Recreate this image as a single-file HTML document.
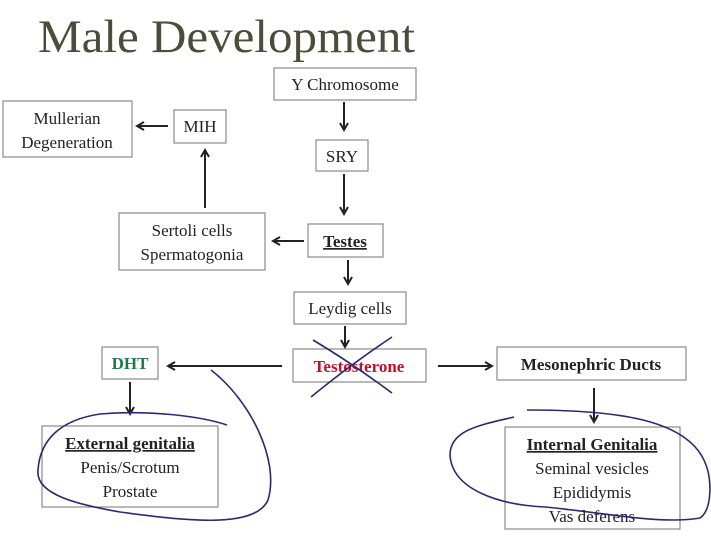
<!DOCTYPE html>
<html><head><meta charset="utf-8"><style>
html,body{margin:0;padding:0;background:#fff;}
svg{display:block;}
text{font-family:"Liberation Serif",serif;font-size:17px;fill:#222;}
.b{fill:#fff;stroke:#8a8a8a;stroke-width:1.2;}
.a{stroke:#222;stroke-width:2;fill:none;}
.ink{stroke:#2a2a6e;stroke-width:1.6;fill:none;}
</style></head><body>
<svg width="711" height="545" viewBox="0 0 711 545">
<defs><marker id="m" markerWidth="10" markerHeight="10" refX="8" refY="5" orient="auto" markerUnits="userSpaceOnUse"><path d="M1,1 L8,5 L1,9" fill="none" stroke="#222" stroke-width="2"/></marker></defs>
<text x="38" y="52" textLength="377" lengthAdjust="spacingAndGlyphs" style="font-size:47px;fill:#4d4c3a">Male Development</text>

<rect class="b" x="274" y="68" width="142" height="32"/><text x="345" y="90" text-anchor="middle">Y Chromosome</text>
<rect class="b" x="316" y="140" width="52" height="31"/><text x="342" y="162" text-anchor="middle">SRY</text>
<rect class="b" x="308" y="224" width="75" height="33"/><text x="345" y="247" text-anchor="middle" style="font-weight:bold;text-decoration:underline">Testes</text>
<rect class="b" x="294" y="292" width="112" height="32"/><text x="350" y="314" text-anchor="middle">Leydig cells</text>
<rect class="b" x="293" y="349" width="133" height="33"/><text x="359" y="372" text-anchor="middle" style="font-weight:bold;fill:#c0102a">Testosterone</text>
<rect class="b" x="174" y="110" width="52" height="33"/><text x="200" y="132" text-anchor="middle">MIH</text>
<rect class="b" x="3" y="101" width="129" height="56"/><text x="67" y="124" text-anchor="middle">Mullerian</text><text x="67" y="148" text-anchor="middle">Degeneration</text>
<rect class="b" x="119" y="213" width="146" height="57"/><text x="192" y="236" text-anchor="middle">Sertoli cells</text><text x="192" y="260" text-anchor="middle">Spermatogonia</text>
<rect class="b" x="102" y="347" width="56" height="32"/><text x="130" y="369" text-anchor="middle" style="font-weight:bold;fill:#1e7a4a">DHT</text>
<rect class="b" x="497" y="347" width="189" height="33"/><text x="591" y="370" text-anchor="middle" style="font-weight:bold">Mesonephric Ducts</text>
<rect class="b" x="42" y="426" width="176" height="81"/><text x="130" y="449" text-anchor="middle" style="font-weight:bold;text-decoration:underline">External genitalia</text><text x="130" y="473" text-anchor="middle">Penis/Scrotum</text><text x="130" y="497" text-anchor="middle">Prostate</text>
<rect class="b" x="505" y="427" width="175" height="102"/><text x="592" y="450" text-anchor="middle" style="font-weight:bold;text-decoration:underline">Internal Genitalia</text><text x="592" y="474" text-anchor="middle">Seminal vesicles</text><text x="592" y="498" text-anchor="middle">Epididymis</text><text x="592" y="522" text-anchor="middle">Vas deferens</text>

<line class="a" x1="344" y1="102" x2="344" y2="130" marker-end="url(#m)"/>
<line class="a" x1="344" y1="174" x2="344" y2="214" marker-end="url(#m)"/>
<line class="a" x1="348" y1="260" x2="348" y2="284" marker-end="url(#m)"/>
<line class="a" x1="345" y1="326" x2="345" y2="347" marker-end="url(#m)"/>
<line class="a" x1="304" y1="241" x2="273" y2="241" marker-end="url(#m)"/>
<line class="a" x1="205" y1="208" x2="205" y2="150" marker-end="url(#m)"/>
<line class="a" x1="168" y1="126" x2="137" y2="126" marker-end="url(#m)"/>
<line class="a" x1="282" y1="366" x2="168" y2="366" marker-end="url(#m)"/>
<line class="a" x1="438" y1="366" x2="492" y2="366" marker-end="url(#m)"/>
<line class="a" x1="130" y1="382" x2="130" y2="414" marker-end="url(#m)"/>
<line class="a" x1="594" y1="388" x2="594" y2="422" marker-end="url(#m)"/>

<path class="ink" d="M313,340 Q350,362 392,393"/>
<path class="ink" d="M392,337 Q350,365 311,397"/>
<path class="ink" d="M211,370 C250,400 280,460 268,500 C255,530 180,520 120,512 C80,505 35,495 38,470 C40,440 60,420 100,414 C150,410 200,416 227,425"/>
<path class="ink" d="M514,417 C480,425 450,430 450,455 C452,490 500,505 545,507 C600,512 660,525 700,518 C712,510 712,480 706,465 C690,420 620,410 527,410"/>
</svg>
</body></html>
